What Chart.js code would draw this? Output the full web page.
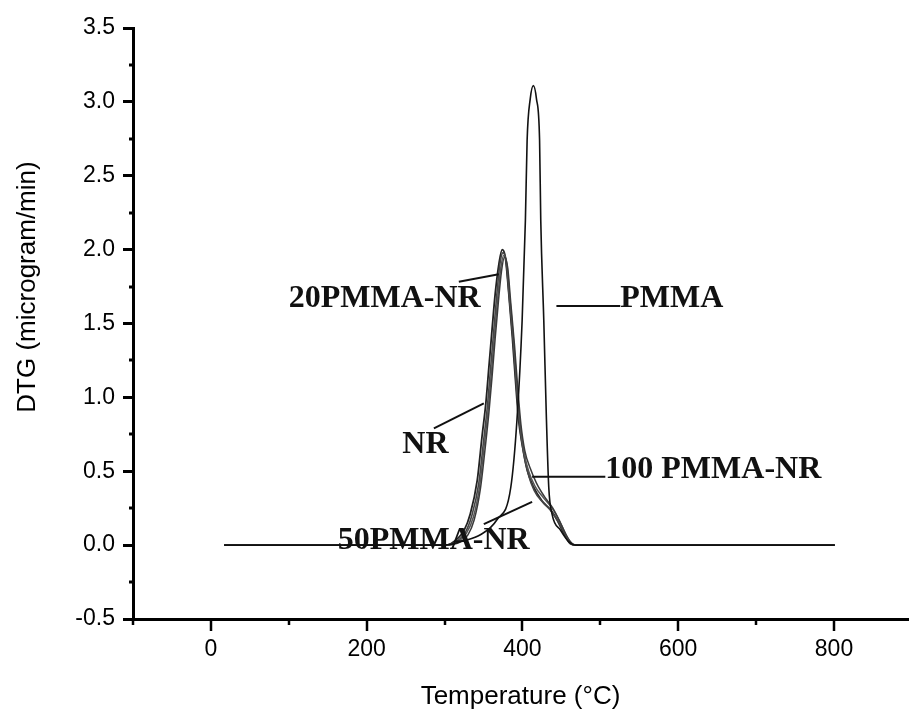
<!DOCTYPE html>
<html>
<head>
<meta charset="utf-8">
<script src="https://cdn.jsdelivr.net/npm/chart.js"></script>
<style>
  html, body { margin: 0; padding: 0; background: #ffffff; }
  #wrap { width: 909px; height: 714px; }
</style>
</head>
<body>
<div id="wrap"><canvas id="dtgChart" width="909" height="714"></canvas></div>
<script>
// DTG curves, temperature (°C) vs DTG (microgram/min)
var nrTemp = [17, 300, 308, 325, 333, 342, 348, 353, 357, 361, 365, 370, 374, 378, 382.5, 387, 391, 395, 400, 406, 414.5, 425, 436, 444.5, 453, 461.5, 470, 801];
var nrDtg = [0, 0, 0.01, 0.10, 0.21, 0.44, 0.73, 0.96, 1.21, 1.46, 1.70, 1.91, 2.0, 1.95, 1.70, 1.41, 1.12, 0.85, 0.67, 0.51, 0.39, 0.30, 0.24, 0.17, 0.08, 0.01, 0, 0];

var pmma20Temp = [17, 300, 310, 327, 335, 344, 350, 355, 359, 363, 367, 371, 375, 379, 383, 388, 392, 396, 401, 407, 415, 426, 437, 446, 454, 462, 470, 801];
var pmma20Dtg = [0, 0, 0.01, 0.09, 0.20, 0.42, 0.70, 0.94, 1.19, 1.44, 1.69, 1.90, 1.98, 1.92, 1.68, 1.38, 1.09, 0.83, 0.64, 0.49, 0.37, 0.29, 0.23, 0.16, 0.08, 0.01, 0, 0];

var pmma50Temp = [17, 300, 312, 328, 337, 345, 351, 356, 360, 364, 368, 372, 376, 380, 384, 389, 393, 397, 402, 408, 416, 427, 438, 447, 455, 463, 470, 801];
var pmma50Dtg = [0, 0, 0.01, 0.08, 0.19, 0.40, 0.68, 0.92, 1.16, 1.42, 1.66, 1.87, 1.96, 1.90, 1.66, 1.36, 1.07, 0.82, 0.63, 0.50, 0.40, 0.32, 0.25, 0.17, 0.08, 0.01, 0, 0];

var pmma100Temp = [17, 300, 315, 330, 338, 346, 352, 357, 361, 365, 369, 373, 377, 381, 385, 390, 394, 398, 403, 410, 418, 428, 439, 448, 456, 464, 470, 801];
var pmma100Dtg = [0, 0, 0.01, 0.07, 0.17, 0.38, 0.65, 0.90, 1.14, 1.40, 1.64, 1.85, 1.95, 1.88, 1.64, 1.34, 1.06, 0.82, 0.64, 0.52, 0.42, 0.33, 0.25, 0.16, 0.07, 0.01, 0, 0];

var pmmaTemp = [17, 300, 325, 346, 367, 385, 393, 399.6, 403.8, 406, 410, 414, 418, 422, 423.5, 427.4, 430.8, 433.8, 438, 449, 460, 468, 801];
var pmmaDtg = [0, 0, 0.03, 0.07, 0.17, 0.39, 0.85, 1.52, 2.2, 2.74, 3.02, 3.11, 3.02, 2.74, 2.2, 1.52, 0.85, 0.39, 0.21, 0.10, 0.02, 0, 0];

// axis ticks
var xTicks = [-100, 0, 100, 200, 300, 400, 500, 600, 700, 800];
var xLabelled = [0, 200, 400, 600, 800];
var yMinor = [-0.25, 0.25, 0.75, 1.25, 1.75, 2.25, 2.75, 3.25];

// curve labels and where their leader lines go (data coordinates)
var labelText = ["20PMMA-NR", "PMMA", "NR", "100 PMMA-NR", "50PMMA-NR"];
var labelAt = [[100, 1.611], [525.6, 1.611], [245.8, 0.625], [506.4, 0.454], [162.8, -0.027]];
var leaderFrom = [[318.3, 1.783], [443.6, 1.618], [286.3, 0.790], [412.4, 0.462], [350.4, 0.142]];
var leaderTo = [[369.6, 1.833], [525.6, 1.618], [350.4, 0.959], [506.4, 0.462], [412.4, 0.293]];

function toPoints(xs, ys) {
  return xs.map(function (x, i) { return { x: x, y: ys[i] }; });
}

function series(label, xs, ys, color, width) {
  return {
    label: label,
    data: toPoints(xs, ys),
    showLine: true,
    borderColor: color,
    borderWidth: width,
    pointRadius: 0,
    fill: false,
    cubicInterpolationMode: "monotone"
  };
}

function isLabelled(v) {
  return xLabelled.indexOf(Math.round(v)) >= 0;
}

// x ticks (long and short), y minor ticks, curve labels and the y title
var extras = {
  id: "extras",
  afterDraw: function (chart) {
    var ctx = chart.ctx;
    var xs = chart.scales.x;
    var ys = chart.scales.y;
    var area = chart.chartArea;
    ctx.save();
    ctx.lineCap = "butt";
    ctx.strokeStyle = "#000";

    ctx.lineWidth = 2.5;
    xTicks.forEach(function (v) {
      var px = Math.round(xs.getPixelForValue(v));
      ctx.beginPath();
      ctx.moveTo(px, area.bottom);
      ctx.lineTo(px, area.bottom + (isLabelled(v) ? 12 : 6));
      ctx.stroke();
    });
    ctx.lineWidth = 3;
    yMinor.forEach(function (v) {
      var py = Math.round(ys.getPixelForValue(v));
      ctx.beginPath();
      ctx.moveTo(area.left - 4, py);
      ctx.lineTo(area.left - 1, py);
      ctx.stroke();
    });

    // leader lines
    ctx.lineWidth = 2;
    ctx.strokeStyle = "#111";
    for (var i = 0; i < labelText.length; i++) {
      ctx.beginPath();
      ctx.moveTo(xs.getPixelForValue(leaderFrom[i][0]), ys.getPixelForValue(leaderFrom[i][1]));
      ctx.lineTo(xs.getPixelForValue(leaderTo[i][0]), ys.getPixelForValue(leaderTo[i][1]));
      ctx.stroke();
    }
    // labels
    ctx.fillStyle = "#111";
    ctx.font = "bold 32px 'Liberation Serif', 'Times New Roman', serif";
    ctx.textAlign = "left";
    ctx.textBaseline = "alphabetic";
    for (var j = 0; j < labelText.length; j++) {
      ctx.fillText(labelText[j], xs.getPixelForValue(labelAt[j][0]), ys.getPixelForValue(labelAt[j][1]));
    }

    // y axis title
    ctx.translate(28, 287);
    ctx.rotate(-Math.PI / 2);
    ctx.font = "26px 'Liberation Sans', Arial, sans-serif";
    ctx.fillStyle = "#000";
    ctx.textAlign = "center";
    ctx.textBaseline = "middle";
    ctx.fillText("DTG (microgram/min)", 0, 0);
    ctx.restore();
  }
};

var tickFont = { family: "'Liberation Sans', Arial, sans-serif", size: 23 };

var ctx = document.getElementById("dtgChart").getContext("2d");
var chart = new Chart(ctx, {
  type: "scatter",
  data: {
    datasets: [
      series("PMMA", pmmaTemp, pmmaDtg, "#111111", 1.6),
      series("100 PMMA-NR", pmma100Temp, pmma100Dtg, "#3a3a3a", 1.5),
      series("50PMMA-NR", pmma50Temp, pmma50Dtg, "#555555", 1.5),
      series("20PMMA-NR", pmma20Temp, pmma20Dtg, "#444444", 1.6),
      series("NR", nrTemp, nrDtg, "#222222", 1.8)
    ]
  },
  options: {
    responsive: false,
    animation: false,
    layout: { padding: { top: 28, right: 1, bottom: 0, left: 0 } },
    plugins: {
      legend: { display: false },
      tooltip: { enabled: false }
    },
    scales: {
      x: {
        type: "linear",
        min: -100,
        max: 895,
        afterBuildTicks: function (scale) {
          scale.ticks = xTicks.map(function (v) { return { value: v }; });
        },
        afterFit: function (scale) { scale.height = 95; },
        border: { display: true, color: "#000", width: 3 },
        grid: {
          drawOnChartArea: false,
          drawTicks: true,
          tickLength: 12,
          tickColor: "rgba(0,0,0,0)"
        },
        ticks: {
          autoSkip: false,
          maxRotation: 0,
          padding: 5,
          color: "#000",
          font: tickFont,
          callback: function (v) { return isLabelled(v) ? String(Math.round(v)) : ""; }
        },
        title: {
          display: true,
          text: "Temperature (°C)",
          color: "#000",
          font: { family: "'Liberation Sans', Arial, sans-serif", size: 26 },
          padding: { top: 0, bottom: 2 }
        }
      },
      y: {
        type: "linear",
        min: -0.5,
        max: 3.5,
        afterFit: function (scale) { scale.width = 133; },
        border: { display: true, color: "#000", width: 3 },
        grid: {
          drawOnChartArea: false,
          drawTicks: true,
          tickLength: 10,
          tickWidth: 3,
          tickColor: "#000"
        },
        ticks: {
          stepSize: 0.5,
          padding: 8,
          color: "#000",
          font: tickFont,
          callback: function (v) { return v.toFixed(1); }
        }
      }
    }
  },
  plugins: [extras]
});
</script>
</body>
</html>
